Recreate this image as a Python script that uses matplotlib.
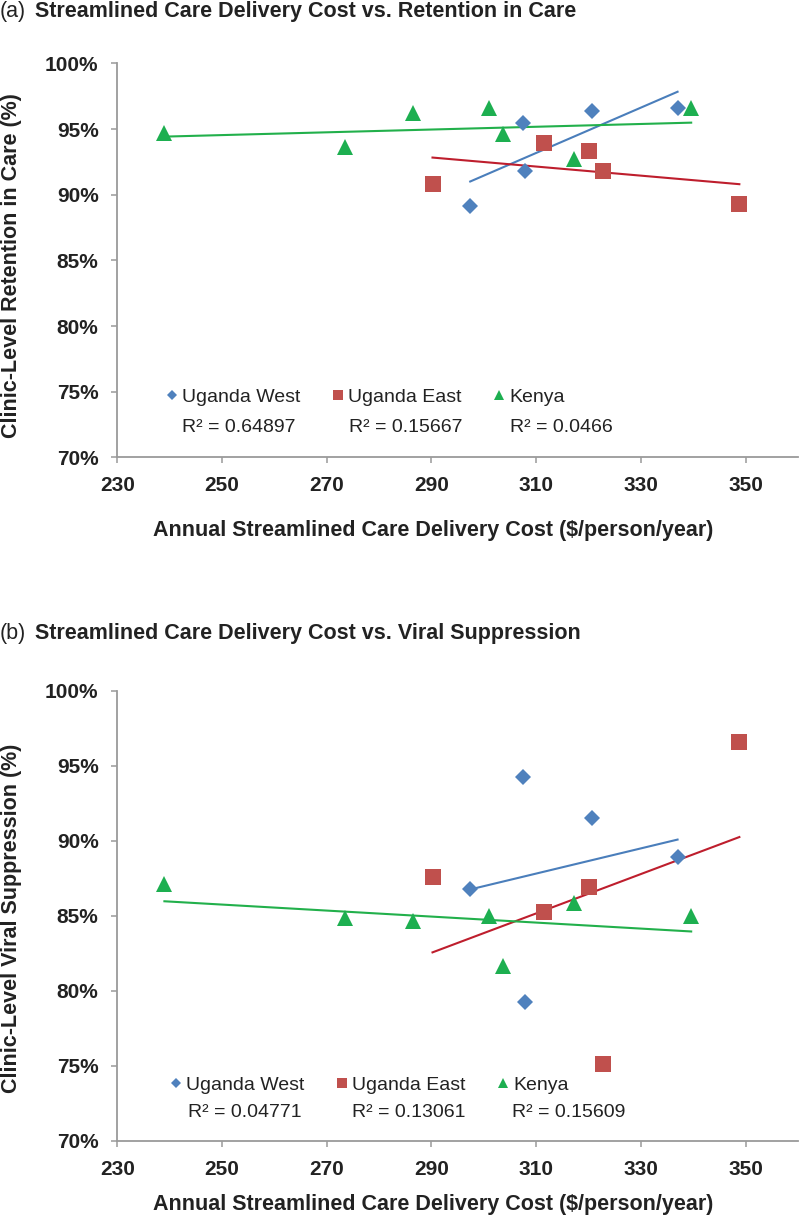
import numpy as np
import matplotlib
matplotlib.use('Agg')
import matplotlib.pyplot as plt
from matplotlib.ticker import FuncFormatter

plt.rcParams['font.family'] = ['Liberation Sans', 'DejaVu Sans']
plt.rcParams['font.weight'] = 'bold'
plt.rcParams['axes.labelweight'] = 'bold'

# annual cost per clinic ($/person/year)
cost_west = [297.4, 307.4, 307.8, 320.7, 337.0]
cost_east = [290.2, 311.4, 320.0, 322.8, 348.8]
cost_kenya = [239.0, 273.4, 286.5, 301.0, 303.7, 317.3, 339.6]

# (a) retention in care (%)
retention_west = [89.14, 95.46, 91.83, 96.35, 96.63]
retention_east = [90.84, 93.97, 93.30, 91.83, 89.29]
retention_kenya = [94.67, 93.60, 96.20, 96.60, 94.65, 92.75, 96.60]

# (b) viral suppression (%)
suppression_west = [86.79, 94.25, 79.28, 91.53, 88.94]
suppression_east = [87.57, 85.29, 86.95, 75.12, 96.55]
suppression_kenya = [87.12, 84.84, 84.67, 84.96, 81.66, 85.84, 84.96]

regions = ['Uganda West', 'Uganda East', 'Kenya']
r2_retention = ['0.64897', '0.15667', '0.0466']
r2_suppression = ['0.04771', '0.13061', '0.15609']

x_ticks = [230, 250, 270, 290, 310, 330, 350]
y_ticks = [70, 75, 80, 85, 90, 95, 100]

markers = ['D', 's', '^']
marker_sizes = [7.8, 11.3, 11.3]
marker_colors = ['#4F81BD', '#C0504D', '#1DAF50']
line_colors = ['#4A7EBB', '#BE1E2D', '#22B04B']
axis_color = '#9A9A9A'
text_color = '#222222'


def draw_panel(ax, costs, values, r2_values, legend_xy, r2_y, r2_x,
               ylabel, ylabel_y, xlabel_y):
    handles = []
    for i in range(3):
        x = np.array(costs[i])
        y = np.array(values[i])
        h, = ax.plot(x, y, linestyle='none', marker=markers[i],
                     markersize=marker_sizes[i], color=marker_colors[i],
                     markeredgewidth=0, label=regions[i], zorder=3)
        handles.append(h)
        # linear trend line over the span of each region's clinics
        slope, intercept = np.polyfit(x, y, 1)
        xs = np.array([x.min(), x.max()])
        ax.plot(xs, slope * xs + intercept, color=line_colors[i], lw=1.5,
                zorder=2)

    ax.set_xlim(230, 360)
    ax.set_ylim(70, 100)
    ax.set_xticks(x_ticks)
    ax.set_yticks(y_ticks)
    ax.yaxis.set_major_formatter(FuncFormatter(lambda v, p: f'{v:.0f}%'))

    for side in ['top', 'right']:
        ax.spines[side].set_visible(False)
    for side in ['left', 'bottom']:
        ax.spines[side].set_color(axis_color)
        ax.spines[side].set_linewidth(1.3)
    ax.tick_params(direction='out', length=4.5, width=1.1, color=axis_color,
                   labelsize=15, labelcolor=text_color, pad=9)

    ax.set_ylabel(ylabel, fontsize=15.5, fontweight='bold', color=text_color,
                  va='center')
    ax.yaxis.set_label_coords(-0.1547, ylabel_y)
    ax.set_xlabel('Annual Streamlined Care Delivery Cost ($/person/year)',
                  fontsize=15.5, fontweight='bold', color=text_color,
                  va='center')
    ax.xaxis.set_label_coords(0.464, xlabel_y)

    ax.legend(handles=handles, loc='center left', bbox_to_anchor=legend_xy,
              ncol=3, frameon=False, borderpad=0, borderaxespad=0,
              handlelength=0.5, handletextpad=0.27, columnspacing=1.68,
              markerscale=0.65, prop={'size': 14, 'weight': 'normal'},
              labelcolor=text_color)
    for i in range(3):
        ax.text(r2_x[i], r2_y, 'R² = ' + r2_values[i], transform=ax.transAxes,
                fontsize=14, fontweight='normal', color=text_color,
                ha='left', va='center')


fig = plt.figure(figsize=(8, 12.17), dpi=100)
ax_a = fig.add_axes([0.1466, 0.6242, 0.8509, 0.3237])
ax_b = fig.add_axes([0.1466, 0.06245, 0.8509, 0.3700])

draw_panel(ax_a, [cost_west, cost_east, cost_kenya],
           [retention_west, retention_east, retention_kenya], r2_retention,
           legend_xy=(0.0732, 0.153), r2_y=0.077,
           r2_x=[0.0951, 0.3404, 0.5769],
           ylabel='Clinic-Level Retention in Care (%)', ylabel_y=0.488,
           xlabel_y=-0.1845)
draw_panel(ax_b, [cost_west, cost_east, cost_kenya],
           [suppression_west, suppression_east, suppression_kenya],
           r2_suppression,
           legend_xy=(0.0794, 0.1244), r2_y=0.0628,
           r2_x=[0.1039, 0.3443, 0.5799],
           ylabel='Clinic-Level Viral Suppression (%)', ylabel_y=0.495,
           xlabel_y=-0.142)

# panel titles
fig.text(0.0, 1 - 11 / 1217, '(a)', fontsize=15.5, fontweight='normal',
         color=text_color, ha='left', va='center')
fig.text(35 / 800, 1 - 11 / 1217,
         'Streamlined Care Delivery Cost vs. Retention in Care',
         fontsize=15.5, color=text_color, ha='left', va='center')
fig.text(0.0, 1 - 633 / 1217, '(b)', fontsize=15.5, fontweight='normal',
         color=text_color, ha='left', va='center')
fig.text(35 / 800, 1 - 633 / 1217,
         'Streamlined Care Delivery Cost vs. Viral Suppression',
         fontsize=15.5, color=text_color, ha='left', va='center')

fig.savefig('out.png', dpi=100, facecolor='white')
